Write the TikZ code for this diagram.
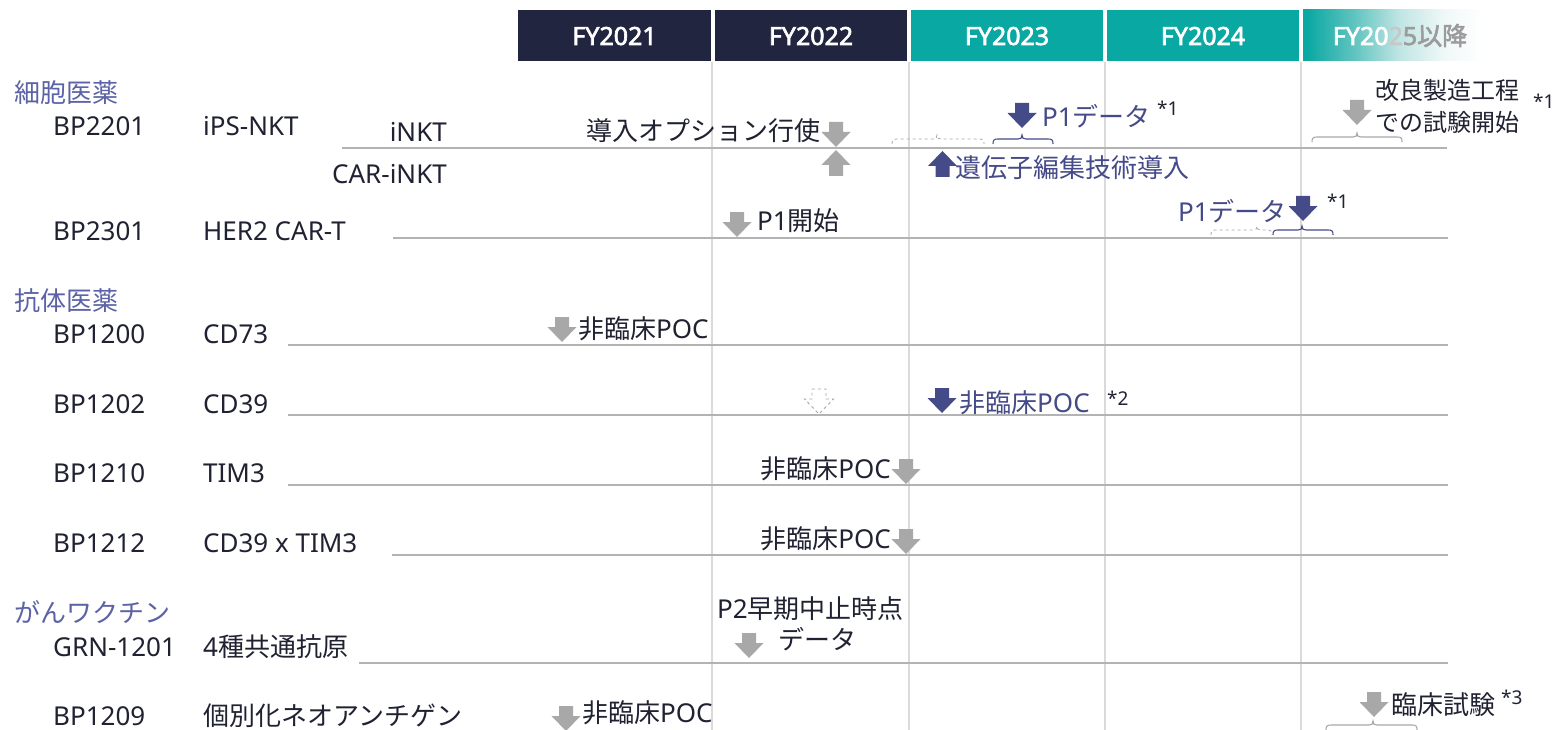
\documentclass[tikz,border=0pt]{standalone}
\usepackage{fontspec}
\setmainfont{Noto Sans}
\newfontfamily\jp{Noto Sans CJK JP}
\newfontfamily\hdrfont{Noto Sans}[FakeBold=2.5]
\newfontfamily\hdrjp{Noto Sans CJK JP}[FakeBold=2.5]
\definecolor{navyhdr}{HTML}{22253F}
\definecolor{tealhdr}{HTML}{0AA8A2}
\definecolor{tealA}{HTML}{5EC3BF}
\definecolor{tealB}{HTML}{BFE5E3}
\definecolor{tealC}{HTML}{F0F8F8}
\definecolor{txt}{HTML}{202232}
\definecolor{navy}{HTML}{454A88}
\definecolor{sect}{HTML}{5C62A6}
\definecolor{agray}{HTML}{A8A8A8}
\definecolor{rowline}{HTML}{B3B3B3}
\definecolor{gridc}{HTML}{DADADA}
\definecolor{fadeA}{HTML}{C8C8C8}
\definecolor{fadeB}{HTML}{9B9B9B}
\pgfdeclarehorizontalshading{fyfade}{100bp}{color(0bp)=(tealhdr); color(26bp)=(tealhdr); color(38bp)=(tealA); color(50bp)=(tealB); color(62bp)=(tealC); color(72bp)=(white); color(100bp)=(white)}
\newcommand\fsn{\fontsize{26}{30}\selectfont}
\newcommand\fsm{\fontsize{24}{28}\selectfont}
\newcommand\fss{\fontsize{19}{22}\selectfont}
\newcommand\fsh{\fontsize{25}{30}\selectfont\hdrfont}
\newcommand\tbrace[5][]{%
  \draw[line width=1.1pt,#1] (#2,#5) .. controls (#2,#5-4) and (#2+1,#5-5) .. (#2+5,#5-5)
    -- (#3-4,#5-5) .. controls (#3-1,#5-5) and (#3,#5-6) .. (#3,#5-9)
    .. controls (#3,#5-6) and (#3+1,#5-5) .. (#3+4,#5-5)
    -- (#4-5,#5-5) .. controls (#4-1,#5-5) and (#4,#5-4) .. (#4,#5);}
\begin{document}
\begin{tikzpicture}[x=1pt,y=-1pt,
  tl/.style={inner sep=0pt, text=txt, font=\fsn, anchor=base west},
  tr/.style={inner sep=0pt, text=txt, font=\fsn, anchor=base east},
  sm/.style={inner sep=0pt, text=txt, font=\fss, anchor=base west},
  sectlbl/.style={inner sep=0pt, text=sect, font=\fsn, anchor=base west},
  hdr/.style={inner sep=0pt, text=white, font=\fsh, anchor=base},
  rowln/.style={draw=rowline, line width=1.5pt},
  gridln/.style={draw=gridc, line width=1.2pt},
  darr/.pic={\path[pic actions] (-7,-25) -- (7,-25) -- (7,-15) -- (14.5,-15) -- (0,0) -- (-14.5,-15) -- (-7,-15) -- cycle;},
  uarr/.pic={\path[pic actions] (-7,26) -- (7,26) -- (7,15) -- (14.5,15) -- (0,0) -- (-14.5,15) -- (-7,15) -- cycle;}
]
\useasboundingbox[fill=white] (0,0) rectangle (1557,730);

% grid lines
\foreach \gx in {712,909,1105,1301} \draw[gridln] (\gx,62) -- (\gx,730);

% header
\fill[navyhdr] (518,10) rectangle (711,61);
\fill[navyhdr] (715,10) rectangle (907,61);
\fill[tealhdr] (911,10) rectangle (1103,61);
\fill[tealhdr] (1107,10) rectangle (1299,61);
\shade[shading=fyfade] (1303,10) rectangle (1495,61);
\node[hdr] (h1) at (614.5,45) {FY2021};
\node[hdr] (h2) at (811,45) {FY2022};
\node[hdr] (h3) at (1007,45) {FY2023};
\node[hdr] (h4) at (1203,45) {FY2024};
\node[hdr] (h5) at (1400,45) {FY20\textcolor{fadeA}{2}\textcolor{fadeB}{5{\hdrjp 以降}}};

% row lines
\draw[rowln] (342,148) -- (1447,148);
\draw[rowln] (393,238) -- (1448,238);
\draw[rowln] (288,345) -- (1448,345);
\draw[rowln] (288,415) -- (1448,415);
\draw[rowln] (288,485) -- (1448,485);
\draw[rowln] (392,555) -- (1448,555);
\draw[rowln] (359,663) -- (1448,663);

% section labels & rows
\node[sectlbl] (s1) at (14,103) {\jp 細胞医薬};
\node[tl] (r1a) at (53,136) {BP2201};
\node[tl] (r1b) at (203,136) {iPS-NKT};
\node[tr] (r1c) at (447,142) {iNKT};
\node[tr] (r1d) at (447,183) {CAR-iNKT};
\node[tl] (r2a) at (53,240) {BP2301};
\node[tl] (r2b) at (203,240) {HER2 CAR-T};
\node[sectlbl] (s2) at (14,310) {\jp 抗体医薬};
\node[tl] (r3a) at (53,343) {BP1200};
\node[tl] (r3b) at (203,343) {CD73};
\node[tl] (r4a) at (53,413) {BP1202};
\node[tl] (r4b) at (203,413) {CD39};
\node[tl] (r5a) at (53,482) {BP1210};
\node[tl] (r5b) at (203,482) {TIM3};
\node[tl] (r6a) at (53,552) {BP1212};
\node[tl] (r6b) at (203,552) {CD39 x TIM3};
\node[sectlbl] (s3) at (14,622) {\jp がんワクチン};
\node[tl] (r7a) at (53,656) {GRN-1201};
\node[tl] (r7b) at (203,656) {4{\jp 種共通抗原}};
\node[tl] (r8a) at (53,725) {BP1209};
\node[tl] (r8b) at (203,725) {\jp 個別化ネオアンチゲン};

% BP2201 events
\node[tr] (e1) at (821,141) {\jp 導入オプション行使};
\pic[fill=agray] at (836,147) {darr};
\pic[fill=agray] at (836,150) {uarr};
\tbrace[draw=agray,dashed,line width=0.8pt]{892}{937}{984}{144}
\tbrace[draw=navy]{993}{1022}{1053}{144}
\pic[fill=navy] at (1022,128) {darr};
\node[tl,text=navy] (e2) at (1042,127) {P1{\jp データ}};
\node[sm] (e2n) at (1157,116) {*1};
\pic[fill=navy] at (942.5,151) {uarr};
\node[tl,text=navy] (e3) at (955,178) {\jp 遺伝子編集技術導入};
\tbrace[draw=agray]{1312}{1357}{1402}{142}
\pic[fill=agray] at (1357,125) {darr};
\node[tl,font=\fsm] (e4) at (1375,100) {\jp 改良製造工程};
\node[tl,font=\fsm] (e5) at (1375,132) {\jp での試験開始};
\node[sm] (e5n) at (1533,109) {*1};

% BP2301 events
\pic[fill=agray] at (737,237) {darr};
\node[tl] (e6) at (757,230) {P1{\jp 開始}};
\tbrace[draw=agray,dashed,line width=0.8pt]{1211}{1257}{1272}{235}
\tbrace[draw=navy]{1273}{1302}{1333}{235}
\pic[fill=navy] at (1303,221) {darr};
\node[tr,text=navy] (e7) at (1287,222) {P1{\jp データ}};
\node[sm] (e7n) at (1327,208) {*1};

% antibody events
\pic[fill=agray] at (562,342) {darr};
\node[tl] (e8) at (578,338) {{\jp 非臨床}POC};
\pic[draw=agray,dashed,line width=0.9pt] at (819,414) {darr};
\pic[fill=navy] at (942,413) {darr};
\node[tl,text=navy] (e9) at (959,412) {{\jp 非臨床}POC};
\node[sm] (e9n) at (1107,405) {*2};
\node[tr] (e10) at (891,478) {{\jp 非臨床}POC};
\pic[fill=agray] at (906,484) {darr};
\node[tr] (e11) at (891,548) {{\jp 非臨床}POC};
\pic[fill=agray] at (906,554) {darr};

% vaccine events
\node[tl] (e12) at (717,618) {P2{\jp 早期中止時点}};
\node[tl] (e13) at (778,649) {\jp データ};
\pic[fill=agray] at (749,658) {darr};
\pic[fill=agray] at (566,731) {darr};
\node[tl] (e14) at (582,722) {{\jp 非臨床}POC};
\pic[fill=agray] at (1374,717) {darr};
\node[tl] (e15) at (1391,714) {\jp 臨床試験};
\node[sm] (e15n) at (1501,704) {*3};
\tbrace[draw=agray]{1326}{1373}{1417}{730}
\end{tikzpicture}
\end{document}
